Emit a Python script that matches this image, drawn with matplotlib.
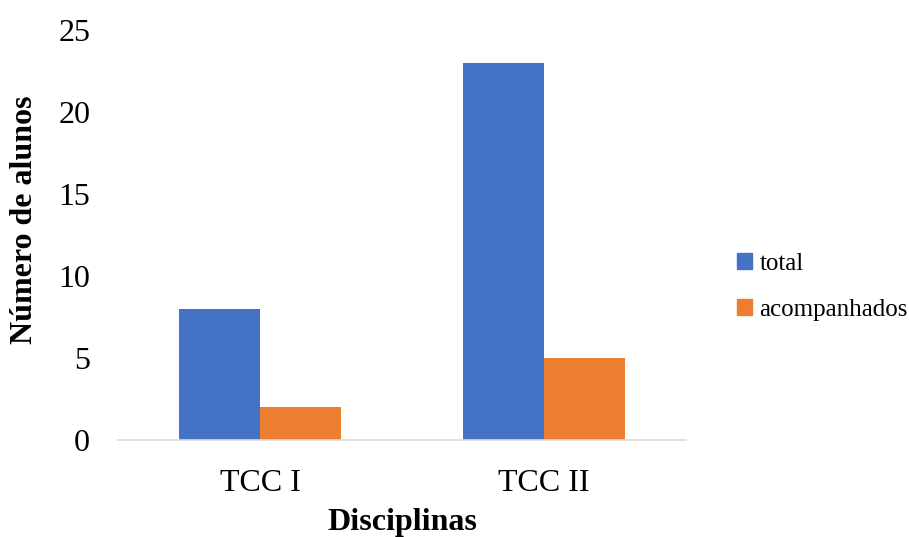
import matplotlib
matplotlib.use("Agg")
import matplotlib.pyplot as plt
import numpy as np
from matplotlib.patches import Patch

categories = ["TCC I", "TCC II"]
series_names = ["total", "acompanhados"]
total = [8, 23]
acompanhados = [2, 5]
yticks = [0, 5, 10, 15, 20, 25]

plt.rcParams['font.family'] = ['Liberation Serif', 'DejaVu Serif']

fig = plt.figure(figsize=(9.09, 5.37), dpi=100)
ax = fig.add_axes([118/909, 1-440/537, (686-118)/909, (440-30)/537])

x = np.arange(len(categories))
w = 0.285
c1, c2 = "#4472C4", "#ED7D31"
ax.bar(x - w/2, total, w, color=c1, label=series_names[0])
ax.bar(x + w/2, acompanhados, w, color=c2, label=series_names[1])

ax.set_xlim(-0.5, 1.5)
ax.set_ylim(0, 25)
ax.set_yticks(yticks)
ax.set_yticklabels([str(t) for t in yticks], fontsize=23)
ax.set_xticks(x)
ax.set_xticklabels(categories, fontsize=23)
ax.tick_params(axis='y', length=0, pad=20)
ax.tick_params(axis='x', length=0, pad=21)
for s in ['top', 'right', 'left']:
    ax.spines[s].set_visible(False)
ax.spines['bottom'].set_color('#D9D9D9')
ax.spines['bottom'].set_linewidth(1.2)

ax.set_ylabel("Número de alunos", fontsize=23, fontweight='bold')
ax.yaxis.set_label_coords((39-118)/568, (440-220)/410)
ax.set_xlabel("Disciplinas", fontsize=23, fontweight='bold', labelpad=7)

handles = [Patch(color=c1, label=series_names[0]), Patch(color=c2, label=series_names[1])]
fig.legend(handles=handles, loc='center left', bbox_to_anchor=(727/909, 1-287/537),
           frameon=False, fontsize=18, handlelength=0.6, handleheight=0.6,
           handletextpad=0.3, labelspacing=0.95, borderaxespad=0)

fig.savefig("out.png", dpi=100)
